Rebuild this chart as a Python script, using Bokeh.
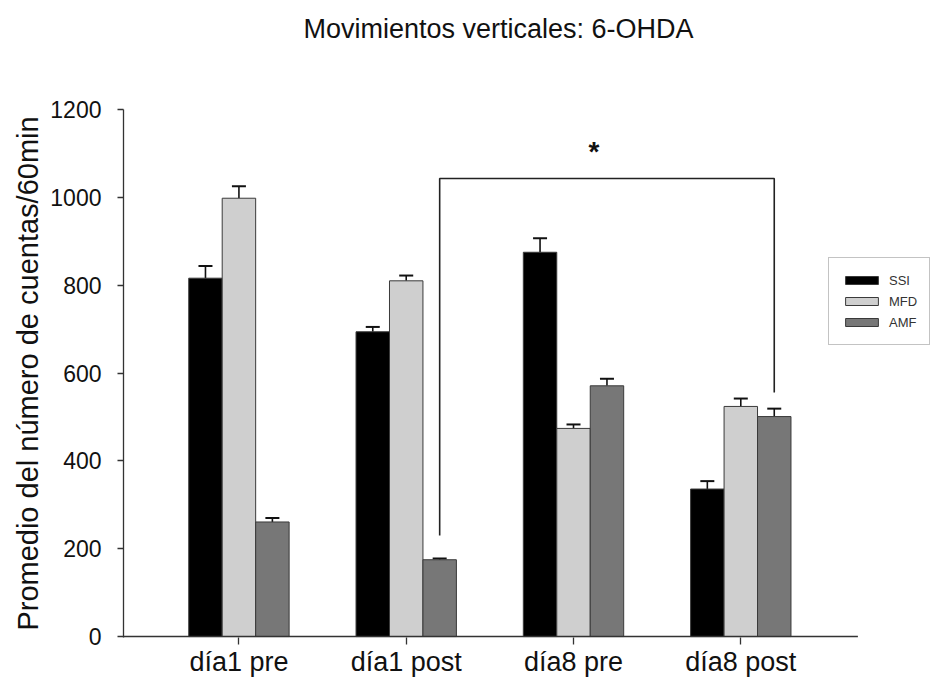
from bokeh.plotting import figure
from bokeh.models import (ColumnDataSource, Range1d, FixedTicker, Whisker, TeeHead,
                          Legend, LegendItem, Title)
from bokeh.transform import dodge
from bokeh.core.properties import value
from bokeh.embed import file_html
from bokeh.resources import INLINE

# ---- data ----
categories = ["día1 pre", "día1 post", "día8 pre", "día8 post"]
series = ["SSI", "MFD", "AMF"]
ssi = [816, 694, 875, 336]
ssi_err = [28, 11, 32, 18]
mfd = [998, 810, 474, 524]
mfd_err = [27, 12, 9, 18]
amf = [261, 175, 571, 501]
amf_err = [9, 3, 16, 18]
y_ticks = [0, 200, 400, 600, 800, 1000, 1200]
title_text = "Movimientos verticales: 6-OHDA"
y_label = "Promedio del número de cuentas/60min"
# significance bracket between AMF día1 post and AMF día8 post
bracket_groups = [1, 3]
bracket_top = 1043
bracket_left_end = 230
bracket_right_end = 556
bracket_star_y = 1104

FONT = "Liberation Sans"
colors = ["#000000", "#cfcfcf", "#777777"]
offsets = [-0.2, 0.0, 0.2]
bar_w = 0.2
x_start, x_axis_end, x_end = -0.69, 3.70, 4.134

idx = list(range(len(categories)))
values = [ssi, mfd, amf]
errs = [ssi_err, mfd_err, amf_err]

p = figure(width=930, height=679, output_backend="svg", toolbar_location=None,
           x_range=Range1d(x_start, x_end), y_range=Range1d(-2, 1200),
           min_border_left=123, min_border_right=0, min_border_top=109,
           min_border_bottom=41)
p.outline_line_color = None
p.xgrid.visible = False
p.ygrid.visible = False
p.background_fill_color = "white"
p.border_fill_color = "white"

renderers = []
for name, vals, err, col, off in zip(series, values, errs, colors, offsets):
    src = ColumnDataSource(dict(
        x=idx, top=vals,
        base=[i + off for i in idx],
        upper=[v + e for v, e in zip(vals, err)],
    ))
    r = p.vbar(x=dodge("x", off, range=p.x_range), top="top", width=bar_w, source=src,
               fill_color=col, line_color="#3a3a3a", line_width=1)
    renderers.append(r)
    w = Whisker(base="base", lower="top", upper="upper", source=src, dimension="height",
                line_color="#111111", line_width=1.6,
                upper_head=TeeHead(size=14, line_color="#111111", line_width=2),
                lower_head=None)
    p.add_layout(w)

# x axis line (ends before the legend area)
p.segment(x0=[x_start], y0=[0], x1=[x_axis_end], y1=[0], line_color="#333333", line_width=1.6)

# bracket
amf_off = offsets[2]
bx = [bracket_groups[0] + amf_off, bracket_groups[0] + amf_off,
      bracket_groups[1] + amf_off, bracket_groups[1] + amf_off]
by = [bracket_left_end, bracket_top, bracket_top, bracket_right_end]
p.line(bx, by, line_color="#222222", line_width=1.6)
p.text(x=[(bx[0] + bx[3]) / 2], y=[bracket_star_y], text=["*"], x_offset=-13,
       text_font=value(FONT), text_font_size="28px", text_font_style="bold",
       text_align="center", text_baseline="middle", text_color="#111111")

# axes
p.xaxis.ticker = FixedTicker(ticks=idx)
p.xaxis.major_label_overrides = {i: c for i, c in zip(idx, categories)}
p.xaxis.major_label_text_font = FONT
p.xaxis.major_label_text_font_size = "27px"
p.xaxis.major_label_text_color = "#111111"
p.xaxis.major_tick_out = 7
p.xaxis.major_tick_in = 0
p.xaxis.minor_tick_line_color = None
p.xaxis.major_label_standoff = 2
p.xaxis.axis_line_color = None
p.xaxis.major_tick_line_color = "#333333"
p.xaxis.major_tick_line_width = 1.3

p.yaxis.ticker = FixedTicker(ticks=y_ticks)
p.yaxis.major_label_text_font = FONT
p.yaxis.major_label_text_font_size = "23px"
p.yaxis.major_label_text_color = "#111111"
p.yaxis.major_tick_out = 6
p.yaxis.major_tick_in = 0
p.yaxis.minor_tick_line_color = None
p.yaxis.major_label_standoff = 16
p.yaxis.axis_line_color = "#333333"
p.yaxis.major_tick_line_color = "#333333"
p.yaxis.axis_line_width = 1.3
p.yaxis.major_tick_line_width = 1.3
p.yaxis.axis_label = y_label
p.yaxis.axis_label_text_font = FONT
p.yaxis.axis_label_text_font_size = "29px"
p.yaxis.axis_label_text_font_style = "normal"
p.yaxis.axis_label_text_color = "#111111"
p.yaxis.axis_label_standoff = 3

# title (spacer first, nearest the frame)
p.title.text = ""
p.add_layout(Title(text=" ", text_font_size="44px"), "above")
p.add_layout(Title(text=title_text, align="left", offset=180, text_font=FONT,
                   text_font_size="27px", text_font_style="normal",
                   text_color="#111111"), "above")

legend = Legend(items=[LegendItem(label=s, renderers=[r]) for s, r in zip(series, renderers)],
                location=(705, 292), orientation="vertical",
                glyph_width=41, glyph_height=10, label_height=20, spacing=1,
                padding=12, margin=0, label_standoff=7,
                label_text_font=FONT, label_text_font_size="13px",
                label_text_color="#333333",
                border_line_color="#888888", border_line_width=1,
                background_fill_color="white", background_fill_alpha=1)
p.add_layout(legend, "center")

open("out.html", "w").write(file_html(p, INLINE))
